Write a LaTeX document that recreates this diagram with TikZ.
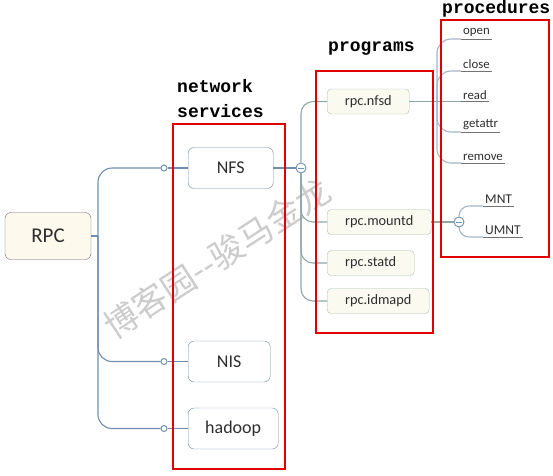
\documentclass[tikz,border=0pt]{standalone}
\usepackage{fontspec}
\setmainfont{Carlito}
\newfontfamily\headfont{Liberation Mono}
\newfontfamily\cjkfont{Noto Sans CJK SC}
\usepackage{xcolor}
\usepackage{tikz}
\usetikzlibrary{positioning,calc}
\definecolor{linkblue}{HTML}{6D8FB0}
\definecolor{svcborder}{HTML}{6F8CA8}
\definecolor{rpcfill}{HTML}{FDF9EC}
\definecolor{progfill}{HTML}{FBFAF0}
\definecolor{progborder}{HTML}{A9BFAE}
\definecolor{proglink}{HTML}{8CA7A6}
\definecolor{proclink}{HTML}{A3B5C9}
\definecolor{textgray}{HTML}{2E2E2E}
\definecolor{framered}{HTML}{E00000}

\begin{document}
\begin{tikzpicture}[
    x=1pt, y=-1pt,
    rootbox/.style={rectangle, draw=gray!80!black, fill=rpcfill, rounded corners=6pt, minimum width=86pt, minimum height=47pt, text=textgray, font=\fontsize{21}{24}\selectfont},
    svcbox/.style={rectangle, draw=svcborder, fill=white, rounded corners=6pt, minimum height=41pt, anchor=west, text=textgray, font=\fontsize{18}{22}\selectfont},
    progbox/.style={rectangle, draw=progborder, fill=progfill, rounded corners=4pt, minimum height=25pt, anchor=west, text=textgray, font=\fontsize{14.3}{17}\selectfont},
    leaf/.style={inner xsep=2pt, inner ysep=2pt, anchor=south west, text=textgray, font=\fontsize{12.8}{15}\selectfont},
    joint/.style={circle, draw=linkblue, fill=white, inner sep=0pt, minimum size=6pt, line width=1pt},
    fold/.style={circle, draw=linkblue, fill=white, inner sep=0pt, minimum size=10pt, line width=0.9pt,
        path picture={\draw[linkblue, line width=0.9pt] ([xshift=2pt]path picture bounding box.west) -- ([xshift=-2pt]path picture bounding box.east);}},
    mainlink/.style={draw=linkblue, line width=1.1pt, rounded corners=14pt},
    proglinkstyle/.style={draw=proglink, line width=1.1pt, rounded corners=12pt},
    proclinkstyle/.style={draw=proclink, line width=1.1pt, rounded corners=14pt},
    underline/.style={draw=gray!90!black, line width=0.9pt},
    redframe/.style={draw=framered, line width=2.6pt},
    heading/.style={font=\headfont\bfseries\fontsize{18}{25}\selectfont, inner sep=0pt}
]
\useasboundingbox (0,0) rectangle (553,475);

% watermark
\node[rotate=33, text=gray!40, font=\cjkfont\fontsize{34}{36}\selectfont] (mark) at (217,258) {博客园--骏马金龙};

% root and services
\node[rootbox] (rpc) at (48,236) {RPC};
\coordinate (trunk) at (98,236);
\node[joint] (jnfs) at (164,168) {};
\node[joint] (jnis) at (164,361.5) {};
\node[joint] (jhadoop) at (164,428.5) {};
\node[svcbox, minimum width=85pt] (nfs) at (188,168) {NFS};
\node[svcbox, minimum width=82pt] (nis) at (188,361.5) {NIS};
\node[svcbox, minimum width=90pt] (hadoop) at (188,428.5) {hadoop};

\draw [mainlink] (rpc.east) -- (trunk);
\draw [mainlink] (trunk) |- (jnfs.west);
\draw [mainlink] (trunk) |- (jnis.west);
\draw [mainlink] (trunk) |- (jhadoop.west);
\draw [mainlink] (jnfs.east) -- (nfs.west);
\draw [mainlink] (jnis.east) -- (nis.west);
\draw [mainlink] (jhadoop.east) -- (hadoop.west);

% programs
\node[fold] (fnfs) at (301,168) {};
\node[progbox, minimum width=82pt] (nfsd) at (327,101.5) {rpc.nfsd};
\node[progbox, minimum width=104pt] (mountd) at (327,222) {rpc.mountd};
\node[progbox, minimum width=87pt] (statd) at (327,263) {rpc.statd};
\node[progbox, minimum width=102pt] (idmapd) at (327,301) {rpc.idmapd};

\draw [mainlink] (nfs.east) -- (fnfs.west);
\draw [proglinkstyle] (fnfs.north) |- (nfsd.west);
\draw [proglinkstyle] (fnfs.south) |- (mountd.west);
\draw [proglinkstyle] (fnfs.south) |- (statd.west);
\draw [proglinkstyle] (fnfs.south) |- (idmapd.west);

% procedures
\coordinate (jproc) at (437,101.5);
\node[leaf] (open) at (461,39) {open};
\node[leaf] (close) at (461,71) {close};
\node[leaf] (read) at (461,101.5) {read};
\node[leaf] (getattr) at (461,132) {getattr};
\node[leaf] (remove) at (461,163) {remove};

\draw [proglinkstyle] (nfsd.east) -- (jproc);
\draw [proclinkstyle] (jproc) |- (open.south west);
\draw [proclinkstyle] (jproc) |- (close.south west);
\draw [proglinkstyle] (jproc) -- (read.south west);
\draw [proclinkstyle] (jproc) |- (getattr.south west);
\draw [proclinkstyle] (jproc) |- (remove.south west);
\draw [underline] (open.south west) -- (open.south east);
\draw [underline] (close.south west) -- (close.south east);
\draw [underline] (read.south west) -- (read.south east);
\draw [underline] (getattr.south west) -- (getattr.south east);
\draw [underline] (remove.south west) -- (remove.south east);

\node[fold] (fmountd) at (459,222) {};
\node[leaf, font=\fontsize{13.5}{16}\selectfont] (mnt) at (483,206) {MNT};
\node[leaf, font=\fontsize{13.5}{16}\selectfont] (umnt) at (483,237) {UMNT};

\draw [proglinkstyle] (mountd.east) -- (fmountd.west);
\draw [proclinkstyle, rounded corners=10pt] (fmountd.north) |- (mnt.south west);
\draw [proclinkstyle, rounded corners=10pt] (fmountd.south) |- (umnt.south west);
\draw [underline] (mnt.south west) -- (mnt.south east);
\draw [underline] (umnt.south west) -- (umnt.south east);

% frames and headings
\draw [redframe] (173,124) rectangle (285,469);
\draw [redframe] (316,71) rectangle (433,333);
\draw [redframe] (441,20) rectangle (549,257);
\node[heading, anchor=north west, align=left] (netlabel) at (177,79) {network\\services};
\node[heading, anchor=north west] (proglabel) at (328,42) {programs};
\node[heading, anchor=north west] (proclabel) at (442,0) {procedures};

\end{tikzpicture}
\end{document}
